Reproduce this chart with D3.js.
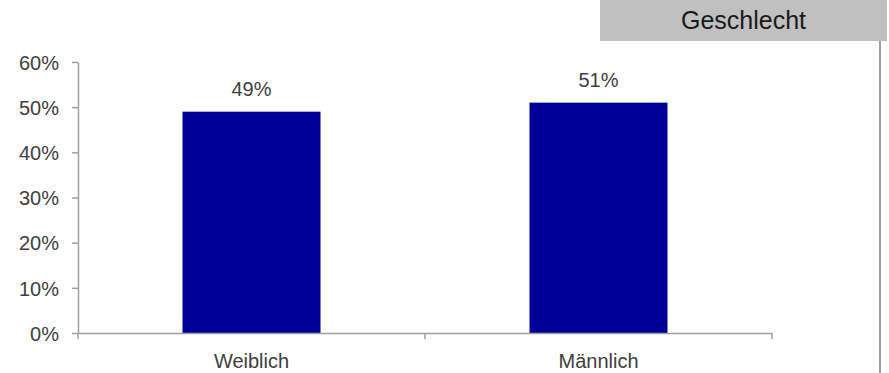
<!DOCTYPE html>
<html><head><meta charset="utf-8">
<script src="https://cdn.jsdelivr.net/npm/d3@7"></script>
<style>body{margin:0;background:#fff}svg{display:block}text{font-family:"Liberation Sans",Arial,sans-serif}</style>
</head><body>
<svg id="c" width="889" height="373"></svg>
<script>
const categories = ["Weiblich", "Männlich"];
const values = [0.49, 0.51];
const yTicks = [0, 0.1, 0.2, 0.3, 0.4, 0.5, 0.6];
const title = "Geschlecht";

const svg = d3.select("#c");
const m = {l: 78, r: 772, t: 62, b: 333};
const xb = d3.scaleBand().domain(categories).range([m.l, m.r]);
const y = d3.scaleLinear().domain([0, 0.6]).range([m.b, m.t]);
const grey = "#a0a0a0", txt = "#404040", fs = 20;

// title box
svg.append("rect").attr("x", 600).attr("y", 0).attr("width", 287).attr("height", 41).attr("fill", "#c0c0c0");
svg.append("text").attr("x", 743.5).attr("y", 29).attr("text-anchor", "middle").attr("font-size", 25).attr("fill", "#1a1a1a").text(title);
// right frame line
svg.append("line").attr("x1", 880).attr("x2", 880).attr("y1", 41).attr("y2", 373).attr("stroke", grey).attr("stroke-width", 2);

// bars
const bw = 138;
svg.selectAll("rect.bar").data(values).join("rect").attr("class", "bar")
  .attr("x", (d, i) => xb(categories[i]) + xb.bandwidth() / 2 - bw / 2)
  .attr("width", bw)
  .attr("y", d => y(d)).attr("height", d => y(0) - y(d))
  .attr("fill", "#000099");
svg.selectAll("text.val").data(values).join("text").attr("class", "val")
  .attr("x", (d, i) => xb(categories[i]) + xb.bandwidth() / 2)
  .attr("y", d => y(d) - 15.5)
  .attr("text-anchor", "middle").attr("font-size", fs).attr("fill", txt)
  .text(d => Math.round(d * 100) + "%");

// y axis
const ya = svg.append("g").attr("transform", `translate(${m.l},0)`)
  .call(d3.axisLeft(y).tickValues(yTicks).tickFormat(d => Math.round(d * 100) + "%").tickSize(6).tickSizeOuter(0).tickPadding(13));
ya.select(".domain").attr("stroke", grey).attr("stroke-width", 1.5);
ya.selectAll(".tick line").attr("stroke", grey).attr("stroke-width", 1.5);
ya.selectAll(".tick text").attr("font-size", fs).attr("fill", txt).attr("font-family", "Liberation Sans, Arial, sans-serif").attr("dy", "0.36em");

// x axis
const xa = svg.append("g").attr("transform", `translate(0,${m.b})`)
  .call(d3.axisBottom(xb).tickSize(0).tickPadding(0));
xa.select(".domain").attr("stroke", grey).attr("stroke-width", 1.5);
xa.selectAll(".tick text").attr("font-size", fs).attr("fill", txt).attr("font-family", "Liberation Sans, Arial, sans-serif").attr("dy", null).attr("y", 35);
const bounds = [m.l, m.l + xb.bandwidth(), m.r];
svg.selectAll("line.xt").data(bounds).join("line").attr("class", "xt")
  .attr("x1", d => d).attr("x2", d => d).attr("y1", m.b).attr("y2", m.b + 6)
  .attr("stroke", grey).attr("stroke-width", 1.5);
</script>
</body></html>
